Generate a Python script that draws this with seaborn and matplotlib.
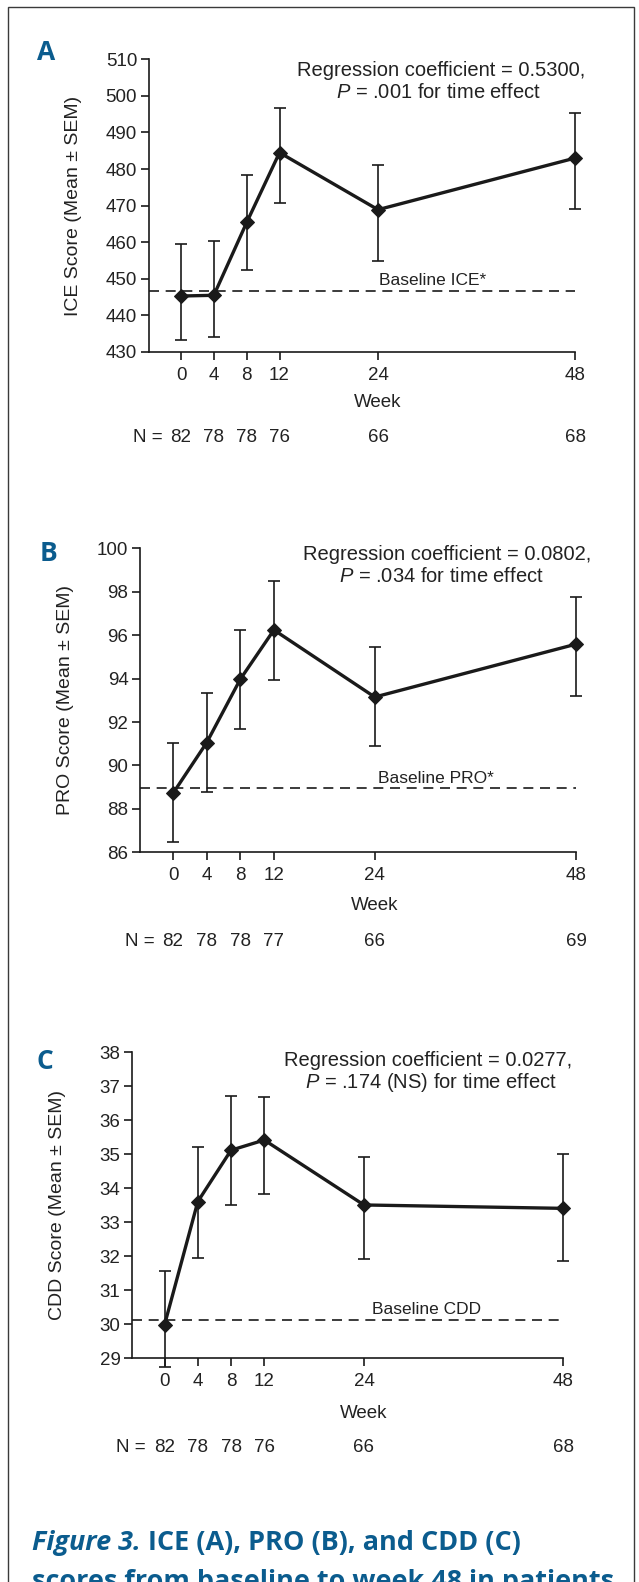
import numpy as np
import pandas as pd
import matplotlib
matplotlib.use("Agg")
import matplotlib.pyplot as plt
import matplotlib.transforms as mtransforms
from matplotlib.patches import Rectangle
import seaborn as sns

# ---------------- data ----------------
weeks = [0, 4, 8, 12, 24, 48]
week_ticks = [0, 4, 8, 12, 24, 48]

ice_mean = [445.3, 445.5, 465.4, 484.5, 468.9, 483.0]
ice_lower = [433.2, 434.1, 452.4, 470.6, 455.0, 469.2]
ice_upper = [459.4, 460.4, 478.5, 496.6, 481.1, 495.3]
ice_baseline = 446.8
ice_n = ["82", "78", "78", "76", "66", "68"]

pro_mean = [88.72, 91.05, 93.97, 96.24, 93.15, 95.59]
pro_lower = [86.48, 88.76, 91.66, 93.94, 90.88, 93.21]
pro_upper = [91.05, 93.32, 96.25, 98.50, 95.44, 97.77]
pro_baseline = 88.95
pro_n = ["82", "78", "78", "77", "66", "69"]

cdd_mean = [29.99, 33.61, 35.12, 35.42, 33.51, 33.41]
cdd_lower = [28.73, 31.96, 33.50, 33.82, 31.91, 31.85]
cdd_upper = [31.58, 35.22, 36.72, 36.68, 34.93, 35.00]
cdd_baseline = 30.14
cdd_n = ["82", "78", "78", "76", "66", "68"]

caption_lead = "Figure 3."
caption_rest = " ICE (A), PRO (B), and CDD (C)"
caption_line2 = "scores from baseline to week 48 in patients"

panels = [
    dict(letter="A", mean=ice_mean, lo=ice_lower, hi=ice_upper, base=ice_baseline,
         base_label="Baseline ICE*", ylabel="ICE Score (Mean ± SEM)",
         ylim=(430, 510), yticks=list(range(430, 511, 10)), n=ice_n,
         reg1="Regression coefficient = 0.5300,",
         reg2=r"$\it{P}$ = .001 for time effect"),
    dict(letter="B", mean=pro_mean, lo=pro_lower, hi=pro_upper, base=pro_baseline,
         base_label="Baseline PRO*", ylabel="PRO Score (Mean ± SEM)",
         ylim=(86, 100), yticks=list(range(86, 101, 2)), n=pro_n,
         reg1="Regression coefficient = 0.0802,",
         reg2=r"$\it{P}$ = .034 for time effect"),
    dict(letter="C", mean=cdd_mean, lo=cdd_lower, hi=cdd_upper, base=cdd_baseline,
         base_label="Baseline CDD", ylabel="CDD Score (Mean ± SEM)",
         ylim=(29, 38), yticks=list(range(29, 39, 1)), n=cdd_n,
         reg1="Regression coefficient = 0.0277,",
         reg2=r"$\it{P}$ = .174 (NS) for time effect"),
]

# ---------------- layout (pixels) ----------------
W, H = 639, 1582
layout = [
    dict(left=149, right=575, top=59.3, bottom=352.0, letter_xy=(37, 52.5),
         ylab_x=73, reg1=(441, 70), reg2=(438, 93), base_x=30.7,
         week_y=402, n_y=437),
    dict(left=140.3, right=576.4, top=548.3, bottom=852.3, letter_xy=(40, 553.5),
         ylab_x=66, reg1=(447, 554.5), reg2=(441.5, 577), base_x=31.3,
         week_y=906, n_y=941),
    dict(left=132.2, right=563.3, top=1052.3, bottom=1358.3, letter_xy=(37, 1061.5),
         ylab_x=58, reg1=(428, 1061), reg2=(430.5, 1083), base_x=31.5,
         week_y=1413, n_y=1448),
]

sns.set_style("ticks")
plt.rcParams["font.family"] = ["Liberation Sans", "DejaVu Sans"]
plt.rcParams["mathtext.fontset"] = "custom"
plt.rcParams["mathtext.rm"] = "Liberation Sans"
plt.rcParams["mathtext.it"] = "Liberation Sans:italic"

TXT = "#222222"
LINE = "#1a1a1a"
BLUE = "#0b5c8e"
FS = 13.5
HEAD_FONT = ["Open Sans", "DejaVu Sans"]

fig = plt.figure(figsize=(W / 100, H / 100), dpi=100)
fig.patch.set_facecolor("white")


def fx(x):
    return x / W


def fy(y):
    return 1 - y / H


for p, L in zip(panels, layout):
    ax = fig.add_axes([fx(L["left"]), fy(L["bottom"]),
                       (L["right"] - L["left"]) / W, (L["bottom"] - L["top"]) / H])
    ax.set_facecolor("none")
    mean = np.array(p["mean"])
    lo = np.array(p["lo"])
    hi = np.array(p["hi"])

    # baseline
    ax.axhline(p["base"], color=LINE, lw=1.2, ls=(0, (6, 4)), zorder=1)

    # error bars
    eb = ax.errorbar(weeks, mean, yerr=[mean - lo, hi - mean], fmt="none",
                     ecolor=LINE, elinewidth=1.2, capsize=4.2, capthick=1.2, zorder=2)
    for child in eb.get_children():
        child.set_clip_on(False)

    # line with diamond markers
    df = pd.DataFrame({"week": weeks, "score": mean})
    sns.lineplot(data=df, x="week", y="score", ax=ax, color=LINE, lw=2.4,
                 marker="D", markersize=7.5, markeredgecolor=LINE,
                 markerfacecolor=LINE, errorbar=None, zorder=3, clip_on=False)

    ax.set_xlim(-3.9, 48)
    ax.set_ylim(*p["ylim"])
    ax.set_yticks(p["yticks"])
    ax.set_xticks(week_ticks)
    ax.set_xlabel("")
    ax.set_ylabel("")
    sns.despine(ax=ax)
    for s in ["left", "bottom"]:
        ax.spines[s].set_linewidth(1.2)
        ax.spines[s].set_color(LINE)
    ax.tick_params(axis="both", direction="out", length=5.5, width=1.2,
                   color=LINE, labelsize=13.5, labelcolor=TXT)
    ax.tick_params(axis="x", pad=5)
    ax.tick_params(axis="y", pad=3)

    blend = mtransforms.blended_transform_factory(ax.transData, fig.transFigure)

    # baseline label
    ax.annotate(p["base_label"], xy=(L["base_x"], p["base"]), xytext=(0, 7),
                textcoords="offset points", ha="center", va="center",
                fontsize=12.5, color=TXT)

    # Week label and N row
    ax.text(24, fy(L["week_y"]), "Week", transform=blend, ha="center",
            va="center", fontsize=FS, color=TXT)
    for wk, nv in zip(weeks, p["n"]):
        ax.text(wk, fy(L["n_y"]), nv, transform=blend, ha="center",
                va="center", fontsize=FS, color=TXT)
    ax.annotate("N =", xy=(0, fy(L["n_y"])), xycoords=blend, xytext=(-13.5, 0),
                textcoords="offset points", ha="right", va="center",
                fontsize=FS, color=TXT)

    # regression text
    fig.text(fx(L["reg1"][0]), fy(L["reg1"][1]), p["reg1"], ha="center",
             va="center", fontsize=14.5, color=TXT)
    fig.text(fx(L["reg2"][0]), fy(L["reg2"][1]), p["reg2"], ha="center",
             va="center", fontsize=14.5, color=TXT)

    # y label
    fig.text(fx(L["ylab_x"]), fy((L["top"] + L["bottom"]) / 2), p["ylabel"],
             rotation=90, ha="center", va="center", fontsize=14, color=TXT)

    # panel letter
    fig.text(fx(L["letter_xy"][0]), fy(L["letter_xy"][1]), p["letter"],
             ha="left", va="center", fontsize=19, fontweight="bold",
             color=BLUE, family=HEAD_FONT)

# border box (open at the bottom)
fig.add_artist(Rectangle((fx(8), fy(1700)), (634 - 8) / W, (1700 - 7.3) / H,
                         transform=fig.transFigure, fill=False,
                         edgecolor="#3a3a3a", lw=1.0, clip_on=False))

# caption: size fitted so that both lines fit the reference widths
cap_fs = 18
t1 = fig.text(fx(32), fy(1550), caption_lead, ha="left", va="baseline",
              fontsize=cap_fs, fontweight="bold", fontstyle="italic",
              color=BLUE, family=HEAD_FONT)
t2 = fig.text(0, fy(1550), caption_rest, ha="left", va="baseline",
              fontsize=cap_fs, fontweight="bold", color=BLUE, family=HEAD_FONT)
t3 = fig.text(fx(32), fy(1589), caption_line2, ha="left", va="baseline",
              fontsize=cap_fs, fontweight="bold", color=BLUE, family=HEAD_FONT)
r = fig.canvas.get_renderer()
w1 = t1.get_window_extent(r).width + t2.get_window_extent(r).width
w2 = t3.get_window_extent(r).width
scale = min(546 / w1, 584 / w2)
cap_fs = cap_fs * scale
for t in (t1, t2, t3):
    t.set_fontsize(cap_fs)
bb = t1.get_window_extent(r)
t2.set_x(bb.x1 / W)

fig.savefig("out.png", dpi=100, facecolor="white")
